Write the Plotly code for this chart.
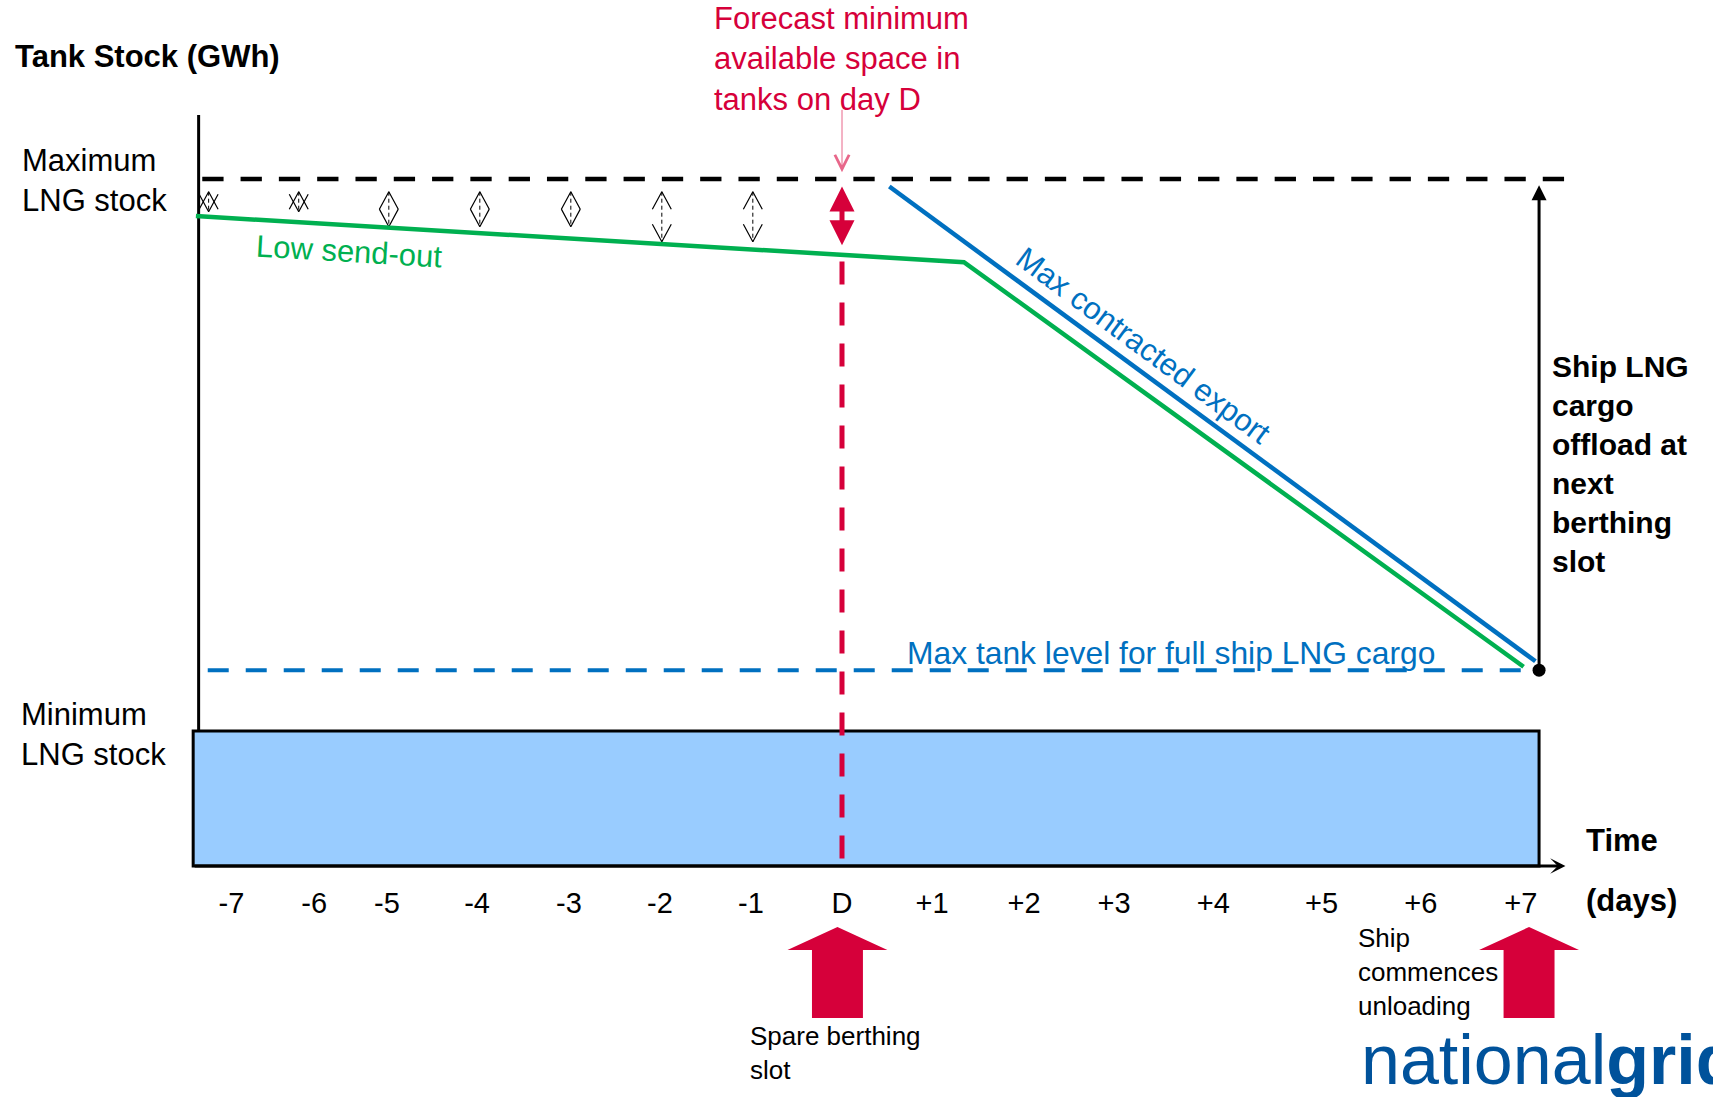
import plotly.graph_objects as go

FONT = "Liberation Sans, Arial, sans-serif"
RED = "#D6003A"
PINK = "#E8678A"
BLUE = "#0070C0"
GREEN = "#00B050"
BOX_FILL = "#99CCFF"
LOGO_BLUE = "#00529B"

# ---- time axis (days relative to day D) ----
tick_labels = ["-7", "-6", "-5", "-4", "-3", "-2", "-1", "D",
               "+1", "+2", "+3", "+4", "+5", "+6", "+7"]
tick_pos = [-6.71, -5.80, -5.00, -4.01, -3.00, -2.00, -1.00, 0.00,
            0.99, 2.00, 2.99, 4.08, 5.27, 6.36, 7.46]

time_start = -7.13
time_end = 7.95
day_d = 0.0
ship_day = 7.66          # next berthing slot: ship starts offloading

# ---- tank stock levels (GWh, schematic) ----
stock_axis_x = -7.07
stock_axis_top = 109.3
max_stock = 100.0
min_stock = 19.65
full_cargo_level = 28.5

# low send-out stock profile
low_sendout_x = [-7.10, 1.34, 7.49]
low_sendout_y = [94.6, 87.9, 29.0]

# max contracted export stock profile
max_export_x = [0.52, 7.62]
max_export_y = [98.9, 29.8]

# available space markers for each day before D
space_day_x = [-6.96, -5.97, -4.98, -3.98, -2.98, -1.98, -0.98]
space_top = [98.15, 98.15, 98.15, 98.15, 98.15, 98.15, 98.15]
space_bottom = [95.24, 95.24, 93.06, 93.06, 93.06, 90.87, 90.87]

# forecast minimum available space on day D
forecast_space_top = 98.9
forecast_space_bottom = 90.14
red_dash_top = 88.0

# berthing slot markers (below the time axis)
berth_arrow_x = [-0.05, 7.55]


def block_arrow(xc, tip=-8.88, head_base=-12.23, tail=-22.13,
                head_half=0.549, shaft_half=0.28):
    xs = [xc, xc + head_half, xc + shaft_half, xc + shaft_half,
          xc - shaft_half, xc - shaft_half, xc - head_half, xc]
    ys = [tip, head_base, head_base, tail, tail, head_base, head_base, tip]
    return xs, ys


def chevron(xc, tip, direction, half_w=0.104, length=2.55):
    # open "V" arrow head; direction +1 points up, -1 points down
    return ([xc - half_w, xc, xc + half_w, None],
            [tip - direction * length, tip, tip - direction * length, None])


fig = go.Figure()

# minimum LNG stock band
fig.add_shape(type="rect", xref="x", yref="y",
              x0=time_start, x1=ship_day, y0=0, y1=min_stock,
              fillcolor=BOX_FILL, line=dict(color="black", width=3),
              layer="below")

# stock axis
fig.add_trace(go.Scatter(x=[stock_axis_x, stock_axis_x],
                         y=[min_stock, stock_axis_top], mode="lines",
                         line=dict(color="black", width=3)))

# maximum LNG stock
fig.add_trace(go.Scatter(x=[-7.03, 7.956], y=[max_stock, max_stock],
                         mode="lines",
                         line=dict(color="black", width=4.5,
                                   dash="21.3px,17px")))

# max tank level for full ship cargo
fig.add_trace(go.Scatter(x=[-6.97, 7.49], y=[full_cargo_level, full_cargo_level],
                         mode="lines",
                         line=dict(color=BLUE, width=4, dash="21px,17px")))

# day D marker
fig.add_trace(go.Scatter(x=[day_d, day_d], y=[red_dash_top, 0], mode="lines",
                         line=dict(color=RED, width=5, dash="23px,18px")))

# daily space markers: dashed shaft plus open heads at both ends
sx, sy, hx, hy = [], [], [], []
for xd, t, b in zip(space_day_x, space_top, space_bottom):
    sx += [xd, xd, None]
    sy += [t, b, None]
    for tip, direction in ((t, 1), (b, -1)):
        cx, cy = chevron(xd, tip, direction)
        hx += cx
        hy += cy
fig.add_trace(go.Scatter(x=sx, y=sy, mode="lines",
                         line=dict(color="black", width=1, dash="4px,3px")))
fig.add_trace(go.Scatter(x=hx, y=hy, mode="lines",
                         line=dict(color="black", width=1.2)))

# stock profiles
fig.add_trace(go.Scatter(x=low_sendout_x, y=low_sendout_y, mode="lines",
                         line=dict(color=GREEN, width=4.5)))
fig.add_trace(go.Scatter(x=max_export_x, y=max_export_y, mode="lines",
                         line=dict(color=BLUE, width=4.5)))

# ship arrival point
fig.add_trace(go.Scatter(x=[ship_day], y=[full_cargo_level], mode="markers",
                         marker=dict(color="black", size=13)))

# berthing slot arrows
for xc in berth_arrow_x:
    ax_, ay_ = block_arrow(xc)
    fig.add_trace(go.Scatter(x=ax_, y=ay_, mode="lines", fill="toself",
                             fillcolor=RED, line=dict(color=RED, width=0)))

annotations = []

# forecast space double arrow
annotations.append(dict(x=day_d, y=forecast_space_top, ax=day_d,
                        ay=forecast_space_bottom, axref="x", ayref="y",
                        text="", showarrow=True, arrowside="end+start",
                        arrowhead=2, startarrowhead=2, arrowwidth=5,
                        arrowsize=1.0, startarrowsize=1.0, arrowcolor=RED))

# pointer from the forecast label
annotations.append(dict(x=day_d, y=101.0, ax=day_d, ay=110.3, axref="x",
                        ayref="y", text="", showarrow=True, arrowhead=5,
                        arrowsize=2.8, arrowwidth=1, arrowcolor=PINK))

# ship cargo offload arrow
annotations.append(dict(x=ship_day, y=99.1, ax=ship_day, ay=full_cargo_level,
                        axref="x", ayref="y", text="", showarrow=True,
                        arrowhead=2, arrowsize=1, arrowwidth=3,
                        arrowcolor="black"))

# time axis arrow
annotations.append(dict(x=time_end, y=0, ax=time_start, ay=0, axref="x",
                        ayref="y", text="", showarrow=True, arrowhead=3,
                        arrowsize=0.85, arrowwidth=3, arrowcolor="black"))


def label(x, y, text, size=31, color="black", xanchor="left", angle=0):
    annotations.append(dict(x=x, y=y, text=text, showarrow=False,
                            xanchor=xanchor, yanchor="middle", align="left",
                            textangle=angle,
                            font=dict(family=FONT, size=size, color=color)))


label(-9.11, 117.9, "<b>Tank Stock (GWh)</b>")
label(-9.03, 99.85, "Maximum<br>LNG stock")
label(-9.04, 19.07, "Minimum<br>LNG stock")
label(-1.43, 117.5, "Forecast minimum<br>available space in<br>tanks on day D",
      color=RED)
label(-5.41, 89.4, "Low send-out", color=GREEN, xanchor="center", angle=3.4)
label(3.31, 75.8, "Max contracted export", color=BLUE, xanchor="center",
      angle=36.5)
label(0.688, 31.0, "Max tank level for full ship LNG cargo", size=31.8,
      color=BLUE)
label(7.78, 58.5,
      "<b>Ship LNG<br>cargo<br>offload at<br>next<br>berthing<br>slot</b>",
      size=30)
label(8.154, 3.64, "<b>Time</b>")
label(8.154, -4.95, "<b>(days)</b>")
label(-1.033, -27.15, "Spare berthing<br>slot", size=26)
label(5.648, -15.5, "Ship<br>commences<br>unloading", size=26)
label(5.68, -28.2, "national<b>grid</b>", size=70, color=LOGO_BLUE)

fig.update_layout(
    width=1713, height=1097,
    margin=dict(l=0, r=0, t=0, b=0),
    paper_bgcolor="white", plot_bgcolor="white",
    showlegend=False,
    font=dict(family=FONT, color="black"),
    annotations=annotations,
    xaxis=dict(range=[-842 / 91, (1713 - 842) / 91], domain=[0, 1],
               showgrid=False, zeroline=False, showline=False,
               anchor="free", position=(1097 - 866) / 1097,
               tickvals=tick_pos, ticktext=tick_labels, ticks="",
               tickfont=dict(family=FONT, size=29, color="black"),
               ticklabelstandoff=17, fixedrange=True),
    yaxis=dict(range=[-(1097 - 866) / 6.87, 866 / 6.87], domain=[0, 1],
               visible=False, fixedrange=True),
)

fig.write_html("out.html", config={"displayModeBar": False})
